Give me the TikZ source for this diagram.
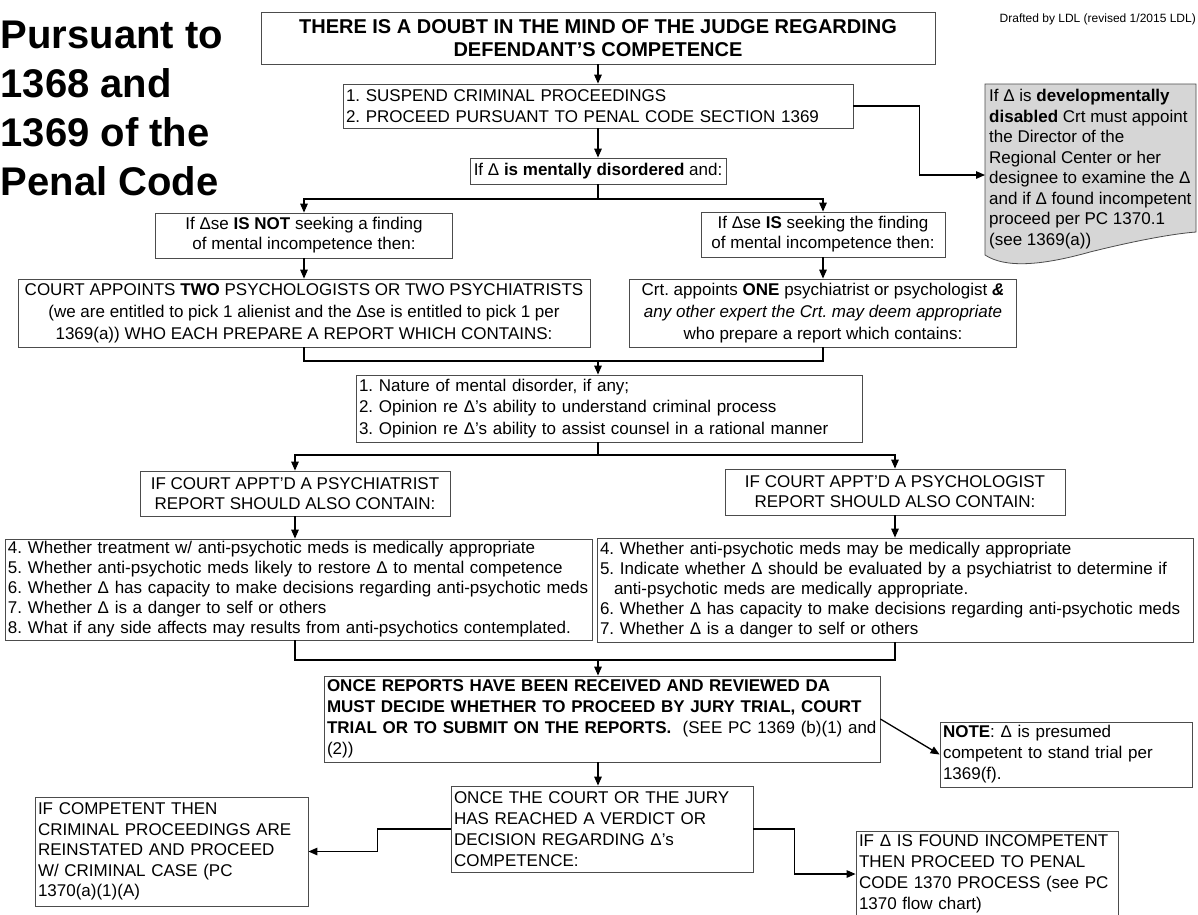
\documentclass[tikz,border=0pt]{standalone}
\usepackage{fontspec}
\setmainfont{Liberation Sans}
\usetikzlibrary{arrows.meta}
\frenchspacing
\begin{document}
\begin{tikzpicture}[x=1pt,y=-1pt,
  box/.style={draw=black!70, line width=0.8pt, rectangle, inner xsep=3pt, inner ysep=2pt},
  fnt/.style={font=\fontsize{17}{#1}\selectfont},
  conn/.style={line width=1.3pt, draw=black},
  arr/.style={conn, -{Triangle[length=9pt,width=7.5pt]}},
  ttl/.style={anchor=base west, inner sep=0pt, font=\fontsize{40}{48}\selectfont\bfseries}]
\useasboundingbox (0,0) rectangle (1198,914);
\fill[white] (0,0) rectangle (1198,914);

% title
\node[ttl] (t1) at (0.5,48) {Pursuant to};
\node[ttl] (t2) at (0.5,97) {1368 and};
\node[ttl] (t3) at (0.5,146) {1369 of the};
\node[ttl] (t4) at (0.5,195) {Penal Code};
\node[anchor=base east, inner sep=0pt, font=\fontsize{12}{14}\selectfont] (draft) at (1196,22) {Drafted by LDL (revised 1/2015 LDL)};

\coordinate (spine) at (598,0);
\coordinate (j1) at (598,199);
\coordinate (j2) at (598,361);
\coordinate (j3) at (598,455);
\coordinate (j4) at (598,660);
\coordinate (devin) at (985,175);

% top
\node[box, minimum width=674pt, minimum height=52pt, align=center, font=\fontsize{20}{23}\selectfont\bfseries] (A) at (598,38)
  {THERE IS A DOUBT IN THE MIND OF THE JUDGE REGARDING\\DEFENDANT’S COMPETENCE};
\node[box, fnt=21, minimum width=510pt, minimum height=44pt, text width=504pt, align=left] (B) at (598,106)
  {1. SUSPEND CRIMINAL PROCEEDINGS\\2. PROCEED PURSUANT TO PENAL CODE SECTION 1369};
\node[box, fnt=21, minimum width=256pt, minimum height=26pt, align=center] (C) at (598,171)
  {If Δ \textbf{is mentally disordered} and:};
\node[box, fnt=20, minimum width=297pt, minimum height=45pt, align=center] (DL) at (304,235.5)
  {If Δse \textbf{IS NOT} seeking a finding\\of mental incompetence then:};
\node[box, fnt=20, minimum width=244pt, minimum height=45pt, align=center] (DR) at (823,234.5)
  {If Δse \textbf{IS} seeking the finding\\of mental incompetence then:};

% developmentally disabled
\path[draw=black!70, line width=0.8pt, fill=black!16] (985,84) -- (1196,84) -- (1196,232)
  .. controls (1170,234) and (1130,242) .. (1090,252)
  .. controls (1040,266) and (1005,268) .. (985,255) -- cycle;
\node[anchor=north west, inner sep=0pt, align=left, fnt=20.5] (dev) at (989,89)
  {If Δ is \textbf{developmentally}\\\textbf{disabled} Crt must appoint\\the Director of the\\Regional Center or her\\designee to examine the Δ\\and if Δ found incompetent\\proceed per PC 1370.1\\(see 1369(a))};

\node[box, fnt=22, minimum width=572pt, minimum height=68pt, align=center] (EL) at (304,313)
  {COURT APPOINTS \textbf{TWO} PSYCHOLOGISTS OR TWO PSYCHIATRISTS\\(we are entitled to pick 1 alienist and the Δse is entitled to pick 1 per\\1369(a)) WHO EACH PREPARE A REPORT WHICH CONTAINS:};
\node[box, fnt=22, minimum width=387pt, minimum height=68pt, align=center] (ER) at (823,313)
  {Crt. appoints \textbf{ONE} psychiatrist or psychologist \textbf{\textit{\&}}\\\textit{any other expert the Crt. may deem appropriate}\\who prepare a report which contains:};

\node[box, fnt=21.5, minimum width=506pt, minimum height=67pt, text width=500pt, align=left] (F) at (609,408.5)
  {1. Nature of mental disorder, if any;\\2. Opinion re Δ’s ability to understand criminal process\\3. Opinion re Δ’s ability to assist counsel in a rational manner};

\node[box, fnt=20, minimum width=310pt, minimum height=45pt, align=center] (GL) at (295,493.5)
  {IF COURT APPT’D A PSYCHIATRIST\\REPORT SHOULD ALSO CONTAIN:};
\node[box, fnt=20, minimum width=340pt, minimum height=46pt, align=center] (GR) at (895,492)
  {IF COURT APPT’D A PSYCHOLOGIST\\REPORT SHOULD ALSO CONTAIN:};

\node[box, fnt=20, minimum width=587pt, minimum height=101pt, text width=581pt, align=left] (HL) at (298.5,589.5)
  {\mbox{4. Whether treatment w/ anti-psychotic meds is medically appropriate}\\\mbox{5. Whether anti-psychotic meds likely to restore Δ to mental competence}\\\mbox{6. Whether Δ has capacity to make decisions regarding anti-psychotic meds}\\7. Whether Δ is a danger to self or others\\\mbox{8. What if any side affects may results from anti-psychotics contemplated.}};
\node[box, fnt=20, minimum width=596pt, minimum height=104pt, text width=590pt, align=left] (HR) at (895,590)
  {4. Whether anti-psychotic meds may be medically appropriate\\\mbox{5. Indicate whether Δ should be evaluated by a psychiatrist to determine if}\\\hspace*{14pt}anti-psychotic meds are medically appropriate.\\\mbox{6. Whether Δ has capacity to make decisions regarding anti-psychotic meds}\\7. Whether Δ is a danger to self or others};

\node[box, fnt=21, minimum width=556pt, minimum height=86pt, text width=550pt, align=left] (I) at (602,719)
  {\mbox{\textbf{ONCE REPORTS HAVE BEEN RECEIVED AND REVIEWED DA}}\\\mbox{\textbf{MUST DECIDE WHETHER TO PROCEED BY JURY TRIAL, COURT}}\\\mbox{\textbf{TRIAL OR TO SUBMIT ON THE REPORTS.}\ \ (SEE PC 1369 (b)(1) and}\\(2))};
\node[box, fnt=21, minimum width=252pt, minimum height=65pt, text width=246pt, align=left] (M) at (1066,754.5)
  {\textbf{NOTE}: Δ is presumed\\competent to stand trial per\\1369(f).};
\node[box, fnt=21, minimum width=302pt, minimum height=86pt, text width=296pt, align=left] (J) at (602,829)
  {ONCE THE COURT OR THE JURY\\HAS REACHED A VERDICT OR\\DECISION REGARDING Δ’s\\COMPETENCE:};
\node[box, fnt=20.5, minimum width=273pt, minimum height=109pt, text width=267pt, align=left] (K) at (171.5,851.5)
  {IF COMPETENT THEN\\CRIMINAL PROCEEDINGS ARE\\REINSTATED AND PROCEED\\W/ CRIMINAL CASE (PC\\1370(a)(1)(A)};
\node[box, fnt=21, minimum width=262pt, minimum height=86pt, text width=256pt, align=left] (L) at (987,874)
  {IF Δ IS FOUND INCOMPETENT\\THEN PROCEED TO PENAL\\CODE 1370 PROCESS (see PC\\1370 flow chart)};

% connectors
\draw[arr] (A.south) -- (B.north);
\draw[arr] (B.south) -- (C.north);
\draw[arr] (B.east) -- ++(66,0) |- (devin);
\draw[conn] (C.south) -- (j1);
\draw[arr] (j1) -| (DL.north);
\draw[arr] (j1) -| (DR.north);
\draw[arr] (DL.south) -- (DL.south |- EL.north);
\draw[arr] (DR.south) -- (DR.south |- ER.north);
\draw[conn] (DL.south |- EL.south) |- (j2);
\draw[conn] (DR.south |- ER.south) |- (j2);
\draw[arr] (j2) -- (spine |- F.north);
\draw[conn] (spine |- F.south) -- (j3);
\draw[arr] (j3) -| (GL.north);
\draw[arr] (j3) -| (GR.north);
\draw[arr] (GL.south) -- (GL.south |- HL.north);
\draw[arr] (GR.south) -- (GR.south |- HR.north);
\draw[conn] (GL.south |- HL.south) |- (j4);
\draw[conn] (GR.south |- HR.south) |- (j4);
\draw[arr] (j4) -- (spine |- I.north);
\draw[arr] (spine |- I.south) -- (spine |- J.north);
\draw[arr] (I.east) -- (M.west);
\draw[arr] (J.west) -- ++(-73,0) |- (K.east);
\draw[arr] (J.east) -- ++(41,0) |- (L.west);
\end{tikzpicture}
\end{document}
